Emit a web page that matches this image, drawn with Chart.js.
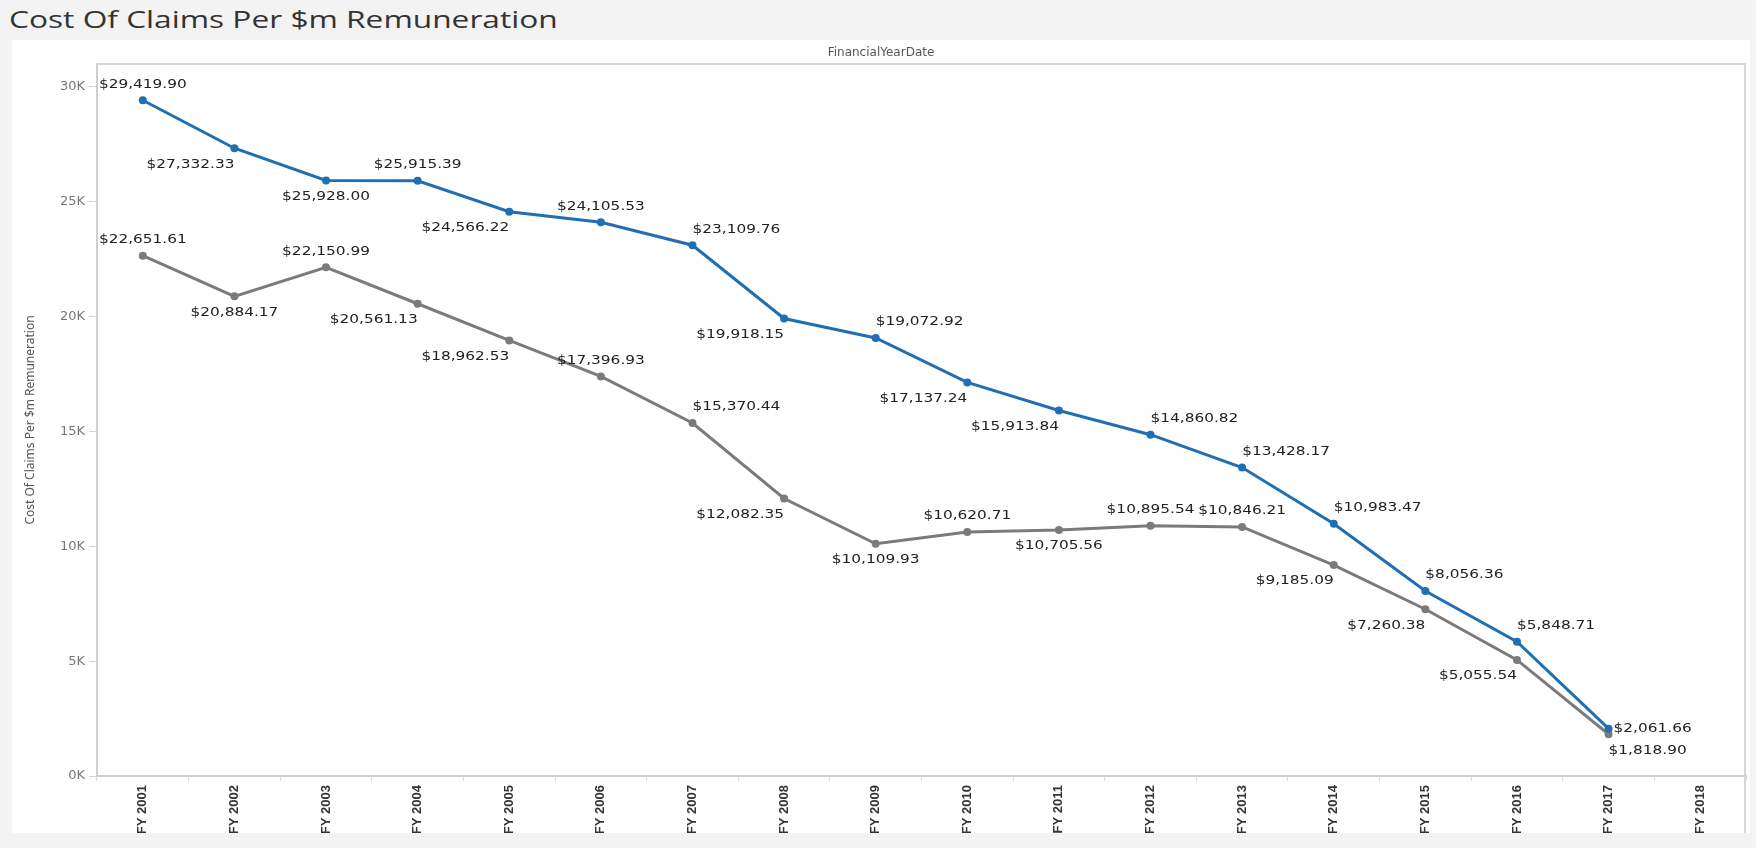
<!DOCTYPE html>
<html>
<head>
<meta charset="utf-8">
<script src="https://cdn.jsdelivr.net/npm/chart.js@4/dist/chart.umd.min.js"></script>
<style>
  body { margin: 0; background: #f3f3f3; width: 1756px; height: 848px; overflow: hidden; position: relative; }
  #titulo { position: absolute; left: 9px; top: 2px; font-family: "Open Sans", sans-serif; font-size: 24px; color: #333; white-space: nowrap; transform: scaleX(1.32); transform-origin: left top; }
  #painel { position: absolute; left: 12px; top: 40px; width: 1738px; height: 793px; background: #fff; }
</style>
</head>
<body>
<div id="titulo">Cost Of Claims Per $m Remuneration</div>
<div id="painel"><canvas id="custoChart" width="1738" height="793"></canvas></div>
<script>
const anos = ["FY 2001", "FY 2002", "FY 2003", "FY 2004", "FY 2005", "FY 2006", "FY 2007", "FY 2008", "FY 2009",
    "FY 2010", "FY 2011", "FY 2012", "FY 2013", "FY 2014", "FY 2015", "FY 2016", "FY 2017", "FY 2018"];

const custoAzul = [29419.90, 27332.33, 25928.00, 25915.39, 24566.22, 24105.53, 23109.76, 19918.15, 19072.92,
    17137.24, 15913.84, 14860.82, 13428.17, 10983.47, 8056.36, 5848.71, 2061.66, null];

const custoCinza = [22651.61, 20884.17, 22150.99, 20561.13, 18962.53, 17396.93, 15370.44, 12082.35, 10109.93,
    10620.71, 10705.56, 10895.54, 10846.21, 9185.09, 7260.38, 5055.54, 1818.90, null];

const ticksY = [0, 5000, 10000, 15000, 20000, 25000, 30000];

// onde fica o rótulo de cada ponto: a = acima, b = abaixo, l/r = lado
const posAzul = ["a", "bl", "b", "a", "bl", "a", "ar", "bl", "ar", "bl", "bl", "ar", "ar", "ar", "ar", "ar", "r", ""];
const posCinza = ["a", "b", "a", "bl", "bl", "a", "ar", "bl", "b", "a", "b", "a", "a", "bl", "bl", "bl", "br", ""];

const AZUL = "#1f6fb2";
const CINZA = "#7b7b7b";

function moeda(v) {
    return "$" + v.toLocaleString("en-US", { minimumFractionDigits: 2, maximumFractionDigits: 2 });
}

// escreve o valor ao lado de cada ponto (texto um pouco esticado na horizontal)
const rotulosPlugin = {
    id: "rotulos",
    afterDatasetsDraw(chart) {
        const ctx = chart.ctx;
        const esticar = 1.18;
        ctx.save();
        ctx.font = "13px 'DejaVu Sans'";
        ctx.fillStyle = "#222";
        ctx.textBaseline = "middle";
        chart.data.datasets.forEach((ds, i) => {
            const pos = i === 0 ? posAzul : posCinza;
            chart.getDatasetMeta(i).data.forEach((pt, j) => {
                const v = ds.data[j];
                if (v === null || !pos[j]) return;
                const p = pos[j];
                let x = pt.x, y = pt.y;
                if (p === "r") {
                    ctx.textAlign = "left";
                    x += 5;
                } else {
                    y += p[0] === "a" ? -16 : 16;
                    ctx.textAlign = p[1] === "l" ? "right" : p[1] === "r" ? "left" : "center";
                }
                ctx.save();
                ctx.translate(x, y);
                ctx.scale(esticar, 1);
                ctx.fillText(moeda(v), 0, 0);
                ctx.restore();
            });
        });
        ctx.restore();
    }
};

// linha de cima e da direita da área do gráfico
const molduraPlugin = {
    id: "moldura",
    beforeDatasetsDraw(chart) {
        const { ctx, chartArea: a } = chart;
        ctx.save();
        ctx.strokeStyle = "#d6d6d6";
        ctx.lineWidth = 2;
        ctx.beginPath();
        ctx.moveTo(a.left, a.top);
        ctx.lineTo(a.right - 1, a.top);
        ctx.lineTo(a.right - 1, chart.height);
        ctx.stroke();
        ctx.restore();
    }
};

const ctx = document.getElementById("custoChart").getContext("2d");

new Chart(ctx, {
    type: "line",
    data: {
        labels: anos,
        datasets: [{
            data: custoAzul,
            borderColor: AZUL,
            backgroundColor: AZUL,
            borderWidth: 3,
            pointRadius: 4,
            pointBorderWidth: 0,
            tension: 0
        }, {
            data: custoCinza,
            borderColor: CINZA,
            backgroundColor: CINZA,
            borderWidth: 3,
            pointRadius: 4,
            pointBorderWidth: 0,
            tension: 0
        }]
    },
    options: {
        responsive: false,
        animation: false,
        layout: { padding: { top: 0, left: 0, right: 0, bottom: 0 } },
        plugins: {
            legend: { display: false },
            tooltip: { enabled: false },
            title: {
                display: true,
                text: "FinancialYearDate",
                color: "#555",
                font: { family: "DejaVu Sans", size: 12, weight: "normal", lineHeight: 1 },
                padding: { top: 7, bottom: 5 }
            }
        },
        scales: {
            x: {
                offset: true,
                afterFit(s) {
                    s.height = 57;
                    s.paddingLeft = 0;
                    s.paddingRight = 0;
                },
                grid: { drawOnChartArea: false, offset: true, tickLength: 5, color: "#dcdcdc" },
                border: { display: true, color: "#cfcfcf", width: 2 },
                ticks: {
                    autoSkip: false,
                    maxRotation: 90,
                    minRotation: 90,
                    padding: 4,
                    color: "#333",
                    font: { family: "Liberation Sans", size: 13, weight: "bold" }
                }
            },
            y: {
                min: 0,
                max: 31000,
                afterFit(s) { s.width = 85; },
                afterBuildTicks(s) { s.ticks = ticksY.map(v => ({ value: v })); },
                grid: { drawOnChartArea: false, tickLength: 8, color: "#d4d4d4" },
                border: { display: true, color: "#cfcfcf", width: 2 },
                ticks: {
                    padding: 4,
                    color: "#777",
                    font: { family: "DejaVu Sans", size: 13 },
                    callback: function (value) {
                        return (value / 1000) + "K";
                    }
                },
                title: {
                    display: true,
                    text: "Cost Of Claims Per $m Remuneration",
                    color: "#555",
                    font: { family: "Noto Sans", size: 12 },
                    padding: { top: 11, bottom: 0 }
                }
            }
        }
    },
    plugins: [rotulosPlugin, molduraPlugin]
});
</script>
</body>
</html>
